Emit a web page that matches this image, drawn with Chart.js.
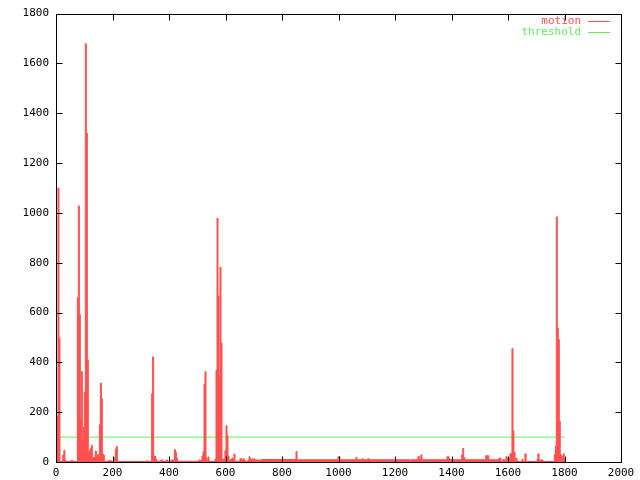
<!DOCTYPE html>
<html>
<head>
<meta charset="utf-8">
<script src="https://cdn.jsdelivr.net/npm/chart.js@4/dist/chart.umd.min.js"></script>
<style>
  body { margin: 0; background: #fff; }
  canvas { display: block; }
</style>
</head>
<body>
<canvas id="chart_motion" width="640" height="480"></canvas>
<script>
// motion: each value holds from its x up to the next x
var motionX = [
  0, 7, 10.5, 14, 24, 28, 31.5, 35, 53, 60,
  75.5, 79, 82.6, 86.1, 89.7, 93.2, 96.7, 100.3, 103.8, 107.4,
  110.9, 114.4, 118, 121.5, 125, 128.6, 132, 139, 143, 146.5,
  150, 153.5, 157, 160.6, 164, 167.7, 171, 183, 197, 206.5,
  210, 213.6, 217, 321, 325, 338.6, 342, 345.7, 349, 352.8,
  356.3, 371, 378, 389, 396, 407, 419, 422.6, 426, 429.7,
  506, 509.7, 513, 516.8, 520.4, 524, 527.4, 531, 534.5, 538,
  541.6, 562.8, 566.4, 570, 573.5, 577, 580.5, 584, 587.6, 591,
  598, 601.8, 605.3, 608.8, 612.4, 616, 623, 626.5, 630, 633.6,
  651, 658, 662, 665.5, 669, 680, 683.5, 687, 690, 694,
  697, 701, 704, 729, 849.6, 853, 998, 1005, 1062, 1065.5,
  1083, 1087, 1104, 1108, 1253, 1257, 1281, 1288, 1292, 1295.6,
  1384, 1391, 1395, 1436, 1440, 1443, 1447, 1521, 1532, 1566,
  1571.7, 1575, 1582, 1589, 1593, 1596, 1603.5, 1607, 1614, 1617.7,
  1621, 1625, 1628, 1632, 1650, 1653, 1660, 1664, 1703, 1706,
  1710, 1713, 1724, 1764, 1767.6, 1771, 1774.5, 1778, 1781.6, 1785,
  1788.7, 1792, 1795.8, 1799, 1802
]
var motionY = [
  183, 1100, 497, 2, 28, 47, 8, 2, 6, 2,
  659, 1028, 593, 173, 363, 87, 139, 281, 1679, 1320,
  410, 39, 44, 55, 67, 16, 18, 44, 20, 30,
  20, 150, 317, 254, 32, 28, 2, 5, 2, 16,
  51, 63, 2, 5, 2, 274, 422, 20, 24, 12,
  3, 8, 2, 8, 2, 8, 50, 40, 16, 3,
  8, 3, 8, 24, 41, 313, 363, 16, 2, 20,
  2, 12, 367, 979, 666, 343, 782, 478, 4, 12,
  45, 146, 107, 24, 4, 9, 16, 9, 32, 3,
  13, 5, 13, 8, 3, 8, 21, 13, 8, 13,
  8, 13, 8, 10, 42, 9, 21, 9, 18, 9,
  13, 9, 13, 9, 5, 9, 21, 9, 29, 9,
  21, 13, 9, 29, 55, 18, 9, 25, 9, 13,
  16, 3, 10, 2, 22, 16, 10, 33, 455, 124,
  38, 2, 15, 2, 12, 2, 33, 2, 12, 33,
  2, 8, 2, 29, 64, 984, 537, 492, 164, 29,
  2, 22, 33, 12, 0
]
var thresholdX = [0, 1800]
var thresholdY = [100, 100]

var xTicks = { min: 0, max: 2000, step: 200 }
var yTicks = { min: 0, max: 1800, step: 200 }

var red = '#ff5050'
var green = '#5ff05f'
var fontFamily = '"DejaVu Sans Mono", "Liberation Mono", monospace'

function toPoints(xs, ys) {
  return xs.map(function (x, i) { return { x: x, y: ys[i] } })
}

function plain(v) { return String(v) }

// gnuplot style border, inward ticks on all sides, key top right
var gnuFrame = {
  id: 'gnuFrame',
  afterDatasetsDraw: function (chart) {
    var ctx = chart.ctx, a = chart.chartArea
    var sx = chart.scales.x, sy = chart.scales.y
    var L = Math.round(a.left) + 0.5, R = Math.round(a.right) + 0.5
    var T = Math.round(a.top) + 0.5, B = Math.round(a.bottom) + 0.5
    ctx.save()
    ctx.strokeStyle = '#000'
    ctx.lineWidth = 1
    ctx.beginPath()
    sx.ticks.forEach(function (t) {
      var p = Math.round(sx.getPixelForValue(t.value)) + 0.5
      ctx.moveTo(p, B); ctx.lineTo(p, B - 6)
      ctx.moveTo(p, T); ctx.lineTo(p, T + 6)
    })
    sy.ticks.forEach(function (t) {
      var p = Math.round(sy.getPixelForValue(t.value)) + 0.5
      ctx.moveTo(L, p); ctx.lineTo(L + 6, p)
      ctx.moveTo(R, p); ctx.lineTo(R - 6, p)
    })
    ctx.stroke()
    ctx.strokeRect(L, T, R - L, B - T)

    ctx.font = '11px ' + fontFamily
    ctx.textAlign = 'right'
    ctx.textBaseline = 'middle'
    chart.data.datasets.forEach(function (ds, i) {
      var yy = 21.5 + i * 11
      ctx.fillStyle = ds.borderColor
      ctx.fillText(ds.label, 581, yy)
      ctx.strokeStyle = ds.borderColor
      ctx.beginPath()
      ctx.moveTo(588, yy); ctx.lineTo(610, yy)
      ctx.stroke()
    })
    ctx.restore()
  }
}

var ctx = document.getElementById('chart_motion')
var myChart = new Chart(ctx, {
  type: 'line',
  data: {
    datasets: [{
      label: 'motion',
      data: toPoints(motionX, motionY),
      borderColor: red,
      backgroundColor: red,
      borderWidth: 1,
      stepped: true,
      fill: 'origin',
      pointRadius: 0
    }, {
      label: 'threshold',
      data: toPoints(thresholdX, thresholdY),
      borderColor: green,
      borderWidth: 1,
      fill: false,
      pointRadius: 0
    }]
  },
  options: {
    responsive: false,
    animation: false,
    devicePixelRatio: 1,
    layout: { padding: { top: 5, right: 19, left: 0, bottom: 0 } },
    plugins: { legend: { display: false }, tooltip: { enabled: false } },
    scales: {
      x: {
        type: 'linear',
        min: xTicks.min, max: xTicks.max,
        grid: { display: false, drawTicks: false },
        border: { display: false },
        ticks: { stepSize: xTicks.step, padding: 5, color: '#000', maxRotation: 0,
          callback: plain, font: { family: fontFamily, size: 11 } },
        afterFit: function (s) { s.height = 18 }
      },
      y: {
        type: 'linear',
        min: yTicks.min, max: yTicks.max,
        grid: { display: false, drawTicks: false },
        border: { display: false },
        ticks: { stepSize: yTicks.step, padding: 7, color: '#000',
          callback: plain, font: { family: fontFamily, size: 11 } },
        afterFit: function (s) { s.width = 56 }
      }
    }
  },
  plugins: [gnuFrame]
})
</script>
</body>
</html>
